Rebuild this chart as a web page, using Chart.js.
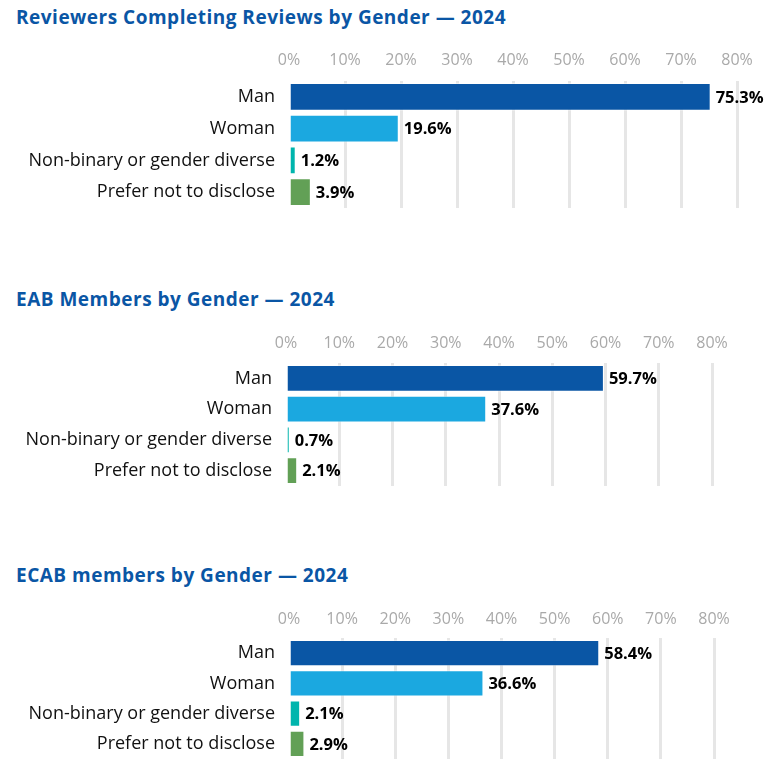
<!DOCTYPE html>
<html><head><meta charset="utf-8">
<script src="https://cdn.jsdelivr.net/npm/chart.js@4"></script>
<style>
html,body{margin:0;padding:0;background:#fff;}
body{width:773px;height:762px;position:relative;overflow:hidden;font-family:'Open Sans',sans-serif;}
.panel{position:absolute;left:0;width:773px;}
.title{position:absolute;left:16px;color:#0a56a5;font-weight:bold;font-size:19px;letter-spacing:0.5px;line-height:24px;white-space:nowrap;}
</style></head><body>
<div class="title" id="t1" style="top:5px"></div>
<div class="title" id="t2" style="top:287px"></div>
<div class="title" id="t3" style="top:563px"></div>
<div class="panel" style="top:41px;height:167px"><canvas id="c1"></canvas></div>
<div class="panel" style="top:323px;height:163px"><canvas id="c2"></canvas></div>
<div class="panel" style="top:598px;height:161px"><canvas id="c3"></canvas></div>
<script>
const categories = ["Man", "Woman", "Non-binary or gender diverse", "Prefer not to disclose"];
const reviewersValues = [75.3, 19.6, 1.2, 3.9];
const eabValues = [59.7, 37.6, 0.7, 2.1];
const ecabValues = [58.4, 36.6, 2.1, 2.9];
const titles = ["Reviewers Completing Reviews by Gender — 2024", "EAB Members by Gender — 2024", "ECAB members by Gender — 2024"];
const tickValues = [0, 10, 20, 30, 40, 50, 60, 70, 80];
const barColors = ["#0a56a5", "#1ba8e0", "#00b5ad", "#62a056"];

const FONT = "'Open Sans', sans-serif";

titles.forEach((t, i) => { document.getElementById('t' + (i + 1)).textContent = t; });

const valueLabels = {
  id: 'valueLabels',
  afterDatasetsDraw(chart) {
    const ctx = chart.ctx;
    const meta = chart.getDatasetMeta(0);
    ctx.save();
    ctx.font = "bold 16.5px " + FONT;
    ctx.fillStyle = "#000";
    ctx.textAlign = "left";
    ctx.textBaseline = "middle";
    meta.data.forEach((bar, i) => {
      const v = chart.data.datasets[0].data[i];
      ctx.fillText(v.toFixed(1) + "%", bar.x + 5, bar.y + 1);
    });
    ctx.restore();
  }
};

function makeChart(id, values, yWidth, padRight, tickPad) {
  new Chart(document.getElementById(id), {
    type: 'bar',
    data: {
      labels: categories,
      datasets: [{
        data: values,
        backgroundColor: barColors,
        borderColor: "rgba(255,255,255,0.5)",
        borderWidth: 1,
        barPercentage: 0.87,
        categoryPercentage: 1.0
      }]
    },
    options: {
      indexAxis: 'y',
      responsive: true,
      maintainAspectRatio: false,
      animation: false,
      layout: { padding: { left: 0, right: padRight, top: 0, bottom: 0 } },
      plugins: {
        legend: { display: false },
        tooltip: { enabled: false },
        title: { display: false }
      },
      scales: {
        x: {
          position: 'top',
          min: 0,
          max: 80,
          afterBuildTicks(scale) { scale.ticks = tickValues.map(v => ({ value: v })); },
          afterFit(scale) { scale.height = 40; scale.paddingLeft = 0; scale.paddingRight = 0; },
          ticks: {
            color: "#a9a9a9",
            font: { family: FONT, size: 16 },
            padding: tickPad,
            callback: v => v + "%",
            maxRotation: 0,
            autoSkip: false
          },
          grid: {
            drawTicks: false,
            lineWidth: 3,
            color: ctx => (ctx.tick && ctx.tick.value === 0) ? "rgba(0,0,0,0)" : "#e6e6e6"
          },
          border: { display: false }
        },
        y: {
          afterFit(scale) { scale.width = yWidth; scale.paddingTop = 0; scale.paddingBottom = 0; },
          ticks: {
            color: "#111",
            font: { family: FONT, size: 18 },
            padding: 6,
            autoSkip: false
          },
          grid: { display: false },
          border: { display: false }
        }
      }
    },
    plugins: [valueLabels]
  });
}

makeChart('c1', reviewersValues, 289, 36, 11);
makeChart('c2', eabValues, 286, 61, 10);
makeChart('c3', ecabValues, 289, 59, 9);
</script>
</body></html>
